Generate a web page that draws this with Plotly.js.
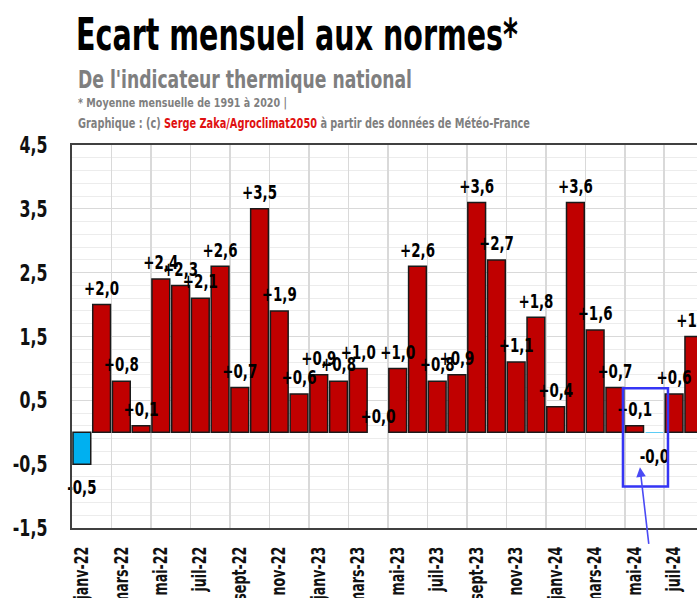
<!DOCTYPE html>
<html>
<head>
<meta charset="utf-8">
<script src="https://cdn.plot.ly/plotly-3.0.1.min.js"></script>
<style>
html,body{margin:0;padding:0;background:#fff;overflow:hidden}
#chart{width:697px;height:598px}
</style>
</head>
<body>
<div id="chart"></div>
<script>
const months = ['janv-22','févr-22','mars-22','avr-22','mai-22','juin-22','juil-22','août-22','sept-22','oct-22','nov-22','déc-22',
                'janv-23','févr-23','mars-23','avr-23','mai-23','juin-23','juil-23','août-23','sept-23','oct-23','nov-23','déc-23',
                'janv-24','févr-24','mars-24','avr-24','mai-24','juin-24','juil-24','août-24'];
const anomalies = [-0.5, 2.0, 0.8, 0.1, 2.4, 2.3, 2.1, 2.6, 0.7, 3.5, 1.9, 0.6,
                   0.9, 0.8, 1.0, 0.0, 1.0, 2.6, 0.8, 0.9, 3.6, 2.7, 1.1, 1.8,
                   0.4, 3.6, 1.6, 0.7, 0.1, -0.01, 0.6, 1.5];
const yTickValues = [-1.5, -0.5, 0.5, 1.5, 2.5, 3.5, 4.5];
const yTickLabels = ['-1,5', '-0,5', '0,5', '1,5', '2,5', '3,5', '4,5'];

const labels = anomalies.map(v => (v >= 0 ? '+' : '') + v.toFixed(1).replace('.', ','));
const colors = anomalies.map(v => v < 0 ? '#00b0f0' : '#c00000');
const FONT = 'DejaVu Sans Condensed, DejaVu Sans, sans-serif';

const traces = [
  {
    type: 'bar', x: months, y: anomalies,
    marker: {color: colors, line: {color: '#1a1a1a', width: anomalies.map(v => Math.abs(v) < 0.05 ? 0 : 1.5)}},
    hoverinfo: 'skip'
  },
  {
    type: 'scatter', mode: 'markers+text', x: months, y: anomalies,
    text: labels,
    textposition: anomalies.map(v => v < 0 ? 'bottom center' : 'top center'),
    marker: {size: anomalies.map(v => v < 0 ? 22 : 6), opacity: 0},
    textfont: {family: FONT, size: 20, color: '#000', weight: 'bold'},
    hoverinfo: 'skip', cliponaxis: false
  }
];

const layout = {
  width: 697, height: 598,
  margin: {l: 72, r: 0, t: 145, b: 70, pad: 0},
  paper_bgcolor: '#fff', plot_bgcolor: '#fff',
  separators: ', ',
  showlegend: false,
  bargap: 0.1,
  title: {
    text: 'Ecart mensuel aux normes*',
    font: {family: FONT, size: 44, color: '#000', weight: 'bold'},
    xref: 'container', x: 76/697, xanchor: 'left',
    yref: 'container', y: 1 - 19/598, yanchor: 'top'
  },
  xaxis: {
    type: 'category', range: [-0.5, 31.16],
    tickmode: 'linear', tick0: 0, dtick: 2, tickson: 'boundaries',
    tickangle: -90, ticks: '',
    tickfont: {family: FONT, size: 19, color: '#111', weight: 'bold'},
    ticklabelstandoff: 9,
    showgrid: true, gridcolor: '#d9d9d9', gridwidth: 1.5,
    showline: true, linecolor: '#404040', linewidth: 2, mirror: true,
    fixedrange: true
  },
  yaxis: {
    range: [-1.5, 4.5], tickmode: 'array', tickvals: yTickValues, ticktext: yTickLabels,
    tickfont: {family: FONT, size: 23, color: '#111', weight: 'bold'},
    ticks: '', ticklabelstandoff: 18,
    showgrid: true, gridcolor: '#d9d9d9', gridwidth: 1.2,
    minor: {tick0: -1.5, dtick: 0.2, showgrid: true, gridcolor: '#ececec', gridwidth: 1},
    zeroline: false,
    showline: true, linecolor: '#404040', linewidth: 2, mirror: false,
    fixedrange: true
  },
  shapes: [
    {type: 'rect', xref: 'x', yref: 'y', x0: 27.41, x1: 29.69, y0: -0.85, y1: 0.69,
     line: {color: '#3535f5', width: 2.5}, fillcolor: 'rgba(0,0,0,0)', layer: 'above'}
  ],
  annotations: [
    {xref: 'paper', yref: 'paper', x: 4/625, y: (528-80)/383, xanchor: 'left', yanchor: 'middle',
     text: "De l'indicateur thermique national", showarrow: false, align: 'left',
     font: {family: FONT, size: 24, color: '#7f7f7f', weight: 'bold'}},
    {xref: 'paper', yref: 'paper', x: 4/625, y: (528-102)/383, xanchor: 'left', yanchor: 'middle',
     text: '* Moyenne mensuelle de 1991 à 2020 |', showarrow: false, align: 'left',
     font: {family: FONT, size: 13, color: '#7f7f7f', weight: 'bold'}},
    {xref: 'paper', yref: 'paper', x: 4/625, y: (528-122.5)/383, xanchor: 'left', yanchor: 'middle',
     text: 'Graphique : (c) <span style="color:#e01010">Serge Zaka/Agroclimat2050</span> à partir des données de Météo-France',
     showarrow: false, align: 'left',
     font: {family: FONT, size: 14, color: '#7f7f7f', weight: 'bold'}},
    {xref: 'x', yref: 'y', x: 28.27, y: -0.55, ax: 9, ay: 78, text: '', showarrow: true,
     arrowhead: 2, arrowsize: 1.2, arrowwidth: 1.6, arrowcolor: '#4a4af5', standoff: 0}
  ]
};

function fit(el, target) {
  el.setAttribute('textLength', target.toFixed(1));
  el.setAttribute('lengthAdjust', 'spacingAndGlyphs');
}
function scaleGroup(selector, refText, refWidth) {
  const els = Array.from(document.querySelectorAll(selector));
  const ref = els.find(e => e.textContent === refText);
  if (!ref) return;
  const f = refWidth / ref.getComputedTextLength();
  els.forEach(e => { const w = e.getComputedTextLength(); if (w > 0) fit(e, w * f); });
}
function fitText(selector, content, width) {
  const el = Array.from(document.querySelectorAll(selector)).find(e => e.textContent.indexOf(content) === 0);
  if (el) fit(el, width);
}

Plotly.newPlot('chart', traces, layout, {displayModeBar: false, staticPlot: true}).then(() => {
  fitText('.gtitle', 'Ecart', 442);
  fitText('.annotation-text', 'De l', 334);
  fitText('.annotation-text', '* Moyenne', 209);
  fitText('.annotation-text', 'Graphique', 452);
  scaleGroup('.ytick text', '4,5', 28);
  scaleGroup('.xtick text', 'janv-22', 53);
  scaleGroup('.textpoint text', '+2,0', 35);
});
</script>
</body>
</html>
